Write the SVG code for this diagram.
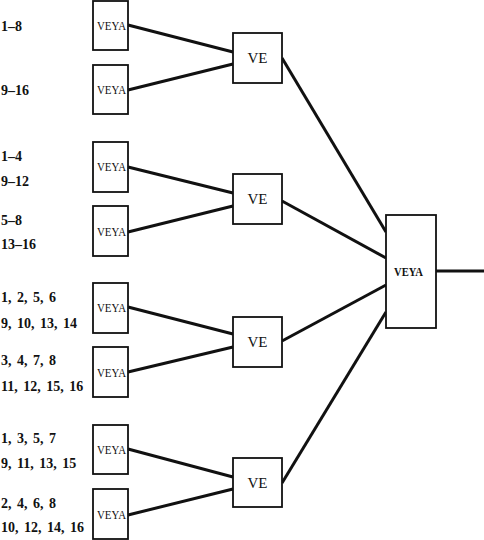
<svg xmlns="http://www.w3.org/2000/svg" width="484" height="540" viewBox="0 0 484 540" font-family="Liberation Serif, serif">
<style>
.box{fill:#fff;stroke:#111;stroke-width:1.8}
.ln{stroke:#111;stroke-width:3;fill:none;stroke-linecap:butt}
.lbl{font-weight:bold;font-size:14px;word-spacing:2px;fill:#111}
.sm{font-size:12px;fill:#111}
.ve{font-size:15px;fill:#111}
.big{font-weight:bold;font-size:13px;fill:#111}
</style>
<rect width="484" height="540" fill="#fff"/>
<g id="connectors">
<line class="ln" x1="128" y1="25" x2="233" y2="52"/>
<line class="ln" x1="128" y1="90" x2="233" y2="64"/>
<line class="ln" x1="128" y1="167" x2="233" y2="193"/>
<line class="ln" x1="128" y1="232" x2="233" y2="206"/>
<line class="ln" x1="128" y1="307" x2="233" y2="334"/>
<line class="ln" x1="128" y1="372" x2="233" y2="347"/>
<line class="ln" x1="128" y1="449" x2="233" y2="477"/>
<line class="ln" x1="128" y1="515" x2="233" y2="489"/>
<line class="ln" x1="282" y1="58" x2="386" y2="232"/>
<line class="ln" x1="282" y1="201" x2="386" y2="258"/>
<line class="ln" x1="282" y1="341" x2="386" y2="285"/>
<line class="ln" x1="282" y1="483" x2="386" y2="312"/>
<line class="ln" x1="436" y1="271" x2="484" y2="271"/>
</g>
<g id="labels">
<text class="lbl" x="1" y="31">1–8</text>
<text class="lbl" x="1" y="95">9–16</text>
<text class="lbl" x="1" y="161">1–4</text>
<text class="lbl" x="1" y="186">9–12</text>
<text class="lbl" x="1" y="225">5–8</text>
<text class="lbl" x="1" y="249">13–16</text>
<text class="lbl" x="1" y="302">1, 2, 5, 6</text>
<text class="lbl" x="1" y="328">9, 10, 13, 14</text>
<text class="lbl" x="1" y="365">3, 4, 7, 8</text>
<text class="lbl" x="1" y="391">11, 12, 15, 16</text>
<text class="lbl" x="1" y="443">1, 3, 5, 7</text>
<text class="lbl" x="1" y="468">9, 11, 13, 15</text>
<text class="lbl" x="1" y="508">2, 4, 6, 8</text>
<text class="lbl" x="1" y="532">10, 12, 14, 16</text>
</g>
<g id="veya1"><rect class="box" x="93" y="1" width="35" height="49"/><text class="sm" x="97" y="30" textLength="29" lengthAdjust="spacingAndGlyphs">VEYA</text></g>
<g id="veya2"><rect class="box" x="93" y="65" width="35" height="49"/><text class="sm" x="97" y="94" textLength="29" lengthAdjust="spacingAndGlyphs">VEYA</text></g>
<g id="veya3"><rect class="box" x="93" y="142" width="35" height="50"/><text class="sm" x="97" y="171" textLength="29" lengthAdjust="spacingAndGlyphs">VEYA</text></g>
<g id="veya4"><rect class="box" x="93" y="206" width="35" height="50"/><text class="sm" x="97" y="236" textLength="29" lengthAdjust="spacingAndGlyphs">VEYA</text></g>
<g id="veya5"><rect class="box" x="93" y="283" width="35" height="50"/><text class="sm" x="97" y="312" textLength="29" lengthAdjust="spacingAndGlyphs">VEYA</text></g>
<g id="veya6"><rect class="box" x="93" y="347" width="35" height="50"/><text class="sm" x="97" y="377" textLength="29" lengthAdjust="spacingAndGlyphs">VEYA</text></g>
<g id="veya7"><rect class="box" x="93" y="425" width="35" height="49"/><text class="sm" x="97" y="454" textLength="29" lengthAdjust="spacingAndGlyphs">VEYA</text></g>
<g id="veya8"><rect class="box" x="93" y="489" width="35" height="50"/><text class="sm" x="97" y="519" textLength="29" lengthAdjust="spacingAndGlyphs">VEYA</text></g>
<g id="ve1"><rect class="box" x="233" y="33" width="49" height="50"/><text class="ve" x="257.5" y="63" text-anchor="middle">VE</text></g>
<g id="ve2"><rect class="box" x="233" y="174" width="49" height="50"/><text class="ve" x="257.5" y="204" text-anchor="middle">VE</text></g>
<g id="ve3"><rect class="box" x="233" y="317" width="49" height="50"/><text class="ve" x="257.5" y="347" text-anchor="middle">VE</text></g>
<g id="ve4"><rect class="box" x="233" y="458" width="49" height="49"/><text class="ve" x="257.5" y="488" text-anchor="middle">VE</text></g>
<g id="veya-main"><rect class="box" x="386" y="215" width="50" height="113"/><text class="big" x="394" y="276" textLength="29" lengthAdjust="spacingAndGlyphs">VEYA</text></g>
</svg>
